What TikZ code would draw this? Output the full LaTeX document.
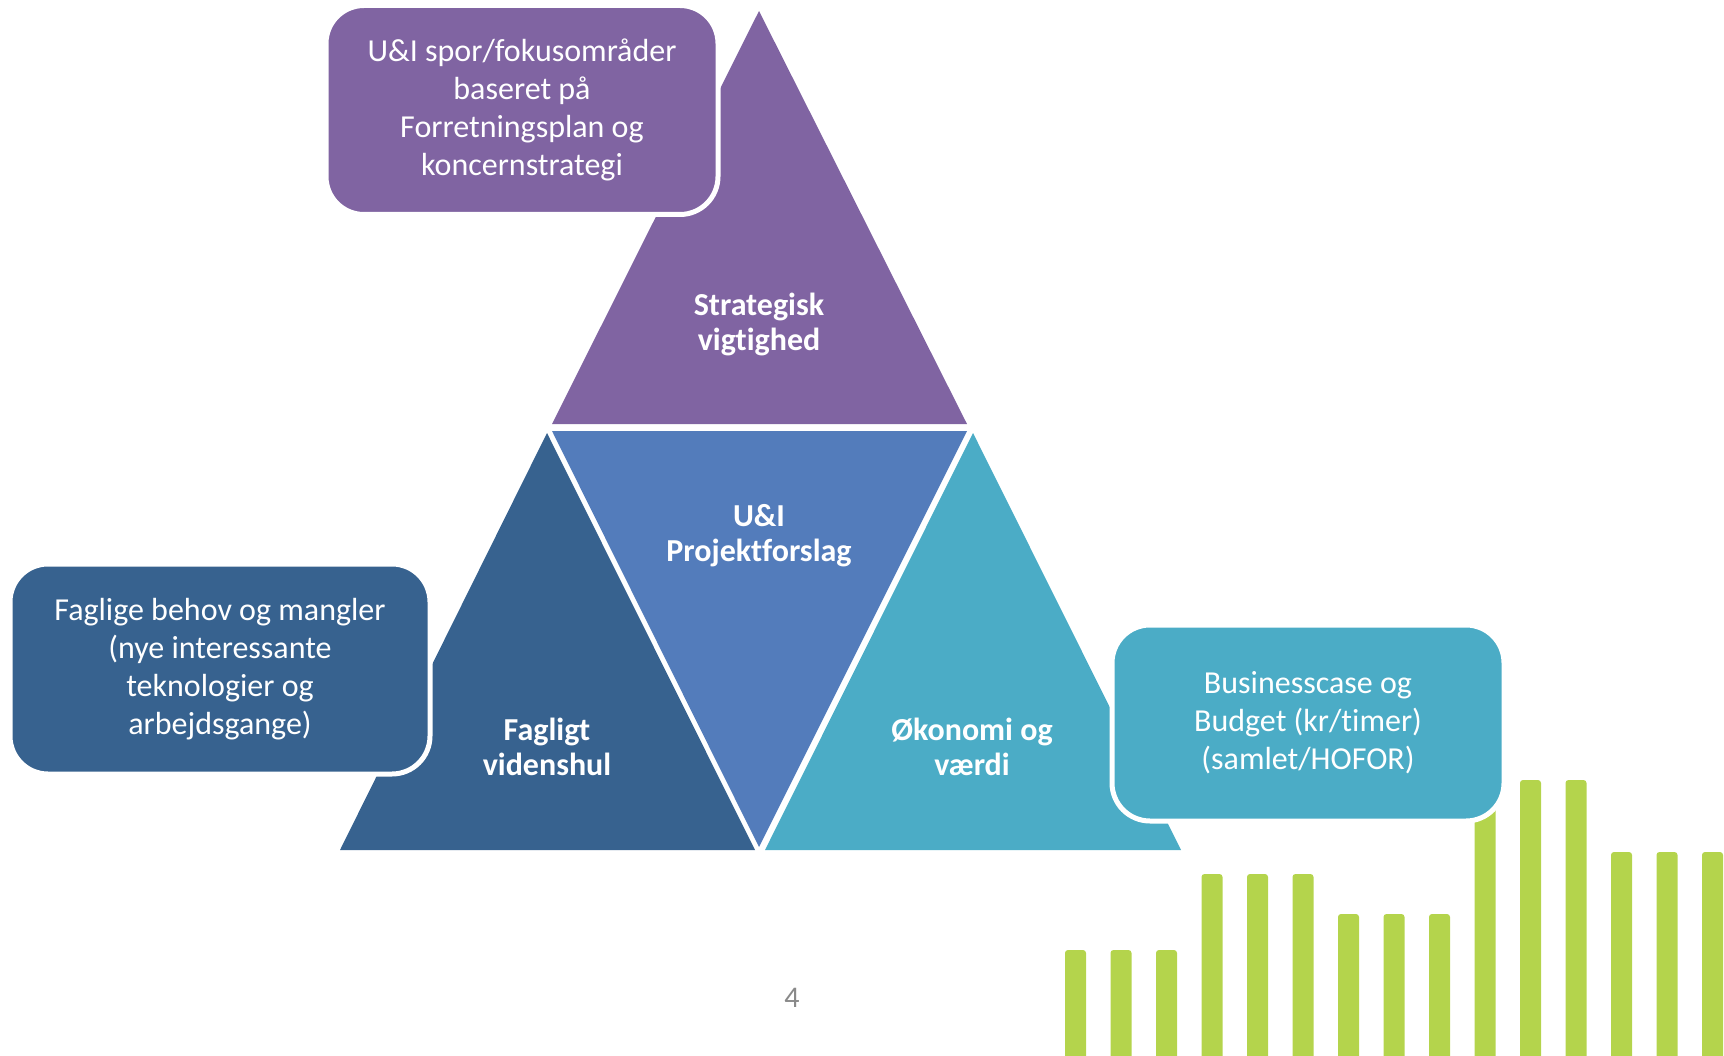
\documentclass[tikz,border=0pt]{standalone}
\usepackage{fontspec}
\setmainfont{Carlito}[Ligatures=NoCommon]
\definecolor{strategiviolet}{HTML}{8064A2}
\definecolor{projektblue}{HTML}{537CBB}
\definecolor{fagligblue}{HTML}{37628F}
\definecolor{okonomiteal}{HTML}{4BACC6}
\definecolor{bargreen}{HTML}{B4D44C}
\definecolor{pagegray}{HTML}{898989}
\begin{document}
\begin{tikzpicture}[x=1pt,y=-1pt,
  trilabel/.style={text=white,align=center,inner sep=0pt,font=\bfseries\fontsize{32}{35}\selectfont},
  infobox/.style={draw=white,line width=5pt,rounded corners=38pt,text=white,align=center,inner sep=0pt,font=\fontsize{32}{38}\selectfont},
  greenbar/.style={fill=bargreen,rounded corners=3pt}]
\useasboundingbox (0,0) rectangle (1724,1056);
% the four triangles
\fill[strategiviolet] (759,11) -- (552,424) -- (967,424) -- cycle;
\fill[projektblue] (552,431) -- (967,431) -- (759,847) -- cycle;
\fill[fagligblue] (547,433) -- (340,850) -- (755,850) -- cycle;
\fill[okonomiteal] (973,433) -- (765,850) -- (1181,850) -- cycle;
\node[trilabel] (strategisk) at (759,324) {Strategisk\\vigtighed};
\node[trilabel] (projekt) at (759,536) {U\&I\\Projektforslag};
\node[trilabel] (fagligt) at (547,747) {Fagligt\\videnshul};
\node[trilabel] (okonomi) at (972,747) {Økonomi og\\værdi};
% green bars
\fill[greenbar] (1065,950) rectangle (1086,1062);
\fill[greenbar] (1110.5,950) rectangle (1131.5,1062);
\fill[greenbar] (1156,950) rectangle (1177,1062);
\fill[greenbar] (1201.5,874) rectangle (1222.5,1062);
\fill[greenbar] (1247,874) rectangle (1268,1062);
\fill[greenbar] (1292.5,874) rectangle (1313.5,1062);
\fill[greenbar] (1338,914) rectangle (1359,1062);
\fill[greenbar] (1383.5,914) rectangle (1404.5,1062);
\fill[greenbar] (1429,914) rectangle (1450,1062);
\fill[greenbar] (1474.5,700) rectangle (1495.5,1062);
\fill[greenbar] (1520,780) rectangle (1541,1062);
\fill[greenbar] (1565.5,780) rectangle (1586.5,1062);
\fill[greenbar] (1611,852) rectangle (1632,1062);
\fill[greenbar] (1656.5,852) rectangle (1677.5,1062);
\fill[greenbar] (1702,852) rectangle (1723,1062);
% boxes
\node[infobox,fill=strategiviolet,minimum width=392,minimum height=209] (strategibox) at (522,110) {U\&I spor/fokusområder\\baseret på\\Forretningsplan og\\koncernstrategi};
\node[infobox,fill=fagligblue,minimum width=420,minimum height=210] (fagbox) at (220,669) {Faglige behov og mangler\\(nye interessante\\teknologier og\\arbejdsgange)};
\node[infobox,fill=okonomiteal,minimum width=392,minimum height=196] (budgetbox) at (1308,723) {Businesscase og\\Budget (kr/timer)\\(samlet/HOFOR)};
\node[text=pagegray,font=\fontsize{30}{34}\selectfont] (pagenum) at (792,998) {4};
\end{tikzpicture}
\end{document}
